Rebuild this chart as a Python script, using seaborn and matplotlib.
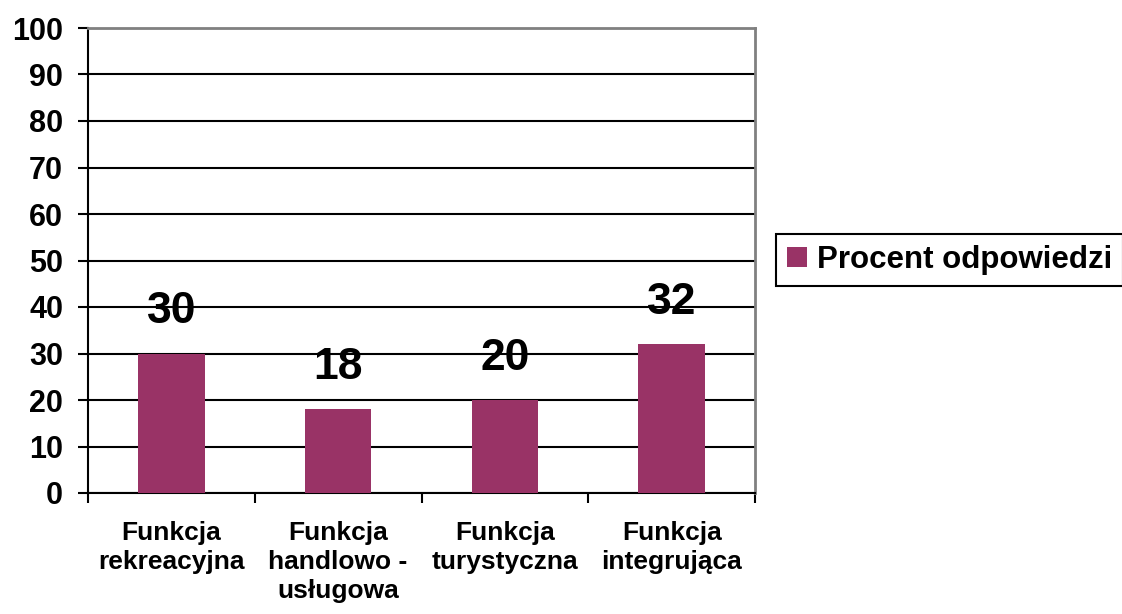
import numpy as np
import pandas as pd
import matplotlib.pyplot as plt
import seaborn as sns

sns.set_theme(style='white')
plt.rcParams['font.family'] = ['Liberation Sans', 'DejaVu Sans']
plt.rcParams['font.weight'] = 'bold'
plt.rcParams['text.color'] = 'black'
plt.rcParams['xtick.color'] = 'black'
plt.rcParams['ytick.color'] = 'black'

kategorie = ['Funkcja\nrekreacyjna', 'Funkcja\nhandlowo -\nusługowa',
             'Funkcja\nturystyczna', 'Funkcja\nintegrująca']
wartosci = [30, 18, 20, 32]
seria = 'Procent odpowiedzi'
kolor = '#993366'

df = pd.DataFrame({'kat': kategorie, 'val': wartosci, 'seria': seria})

fig = plt.figure(figsize=(11.22, 6.14), dpi=100)
ax = fig.add_axes([88/1122, 1-493/614, (755-88)/1122, (493-28)/614])

sns.barplot(data=df, x='kat', y='val', hue='seria', palette=[kolor],
            width=0.4, dodge=False, saturation=1, linewidth=0, ax=ax, zorder=3)

ax.set_xlim(-0.5, 3.5)
ax.set_ylim(0, 100)
ax.set_yticks(range(0, 101, 10))
ax.grid(axis='y', color='black', lw=1.5, zorder=0)
ax.set_axisbelow(True)
ax.set_xlabel('')
ax.set_ylabel('')

# etykiety kategorii + ticki na granicach
ax.set_xticks(range(4))
ax.set_xticklabels(kategorie, fontsize=19, fontweight='bold', va='top',
                   linespacing=1.28)
ax.set_xticks(np.arange(-0.5, 4, 1), minor=True)
ax.tick_params(axis='x', which='major', length=0, pad=20)
ax.tick_params(axis='x', which='minor', length=7, width=1.5, color='black',
               direction='out', bottom=True)
ax.tick_params(axis='y', length=7, width=1.5, color='black', direction='out',
               left=True, labelsize=22, pad=11)
for t in ax.get_yticklabels():
    t.set_fontweight('bold')

for s in ['left', 'bottom']:
    ax.spines[s].set_color('black')
    ax.spines[s].set_linewidth(1.5)
for s in ['top', 'right']:
    ax.spines[s].set_color('#808080')
    ax.spines[s].set_linewidth(2)

# wartości nad słupkami
for i, v in enumerate(wartosci):
    ax.annotate(str(v), (i, v), xytext=(0, 30), textcoords='offset points',
                ha='center', va='center', fontsize=32, fontweight='bold',
                color='black', zorder=5)

leg = ax.legend(loc='center left', bbox_to_anchor=(776/1122, 1-260/614),
                bbox_transform=fig.transFigure,
                prop={'weight': 'bold', 'size': 22.5},
                handlelength=0.65, handleheight=0.65, handletextpad=0.3,
                borderpad=0.35, borderaxespad=0, fancybox=False,
                framealpha=1, edgecolor='black')
leg.get_frame().set_linewidth(1.5)
for t in leg.get_texts():
    t.set_color('black')

fig.savefig('out.png', dpi=100)
